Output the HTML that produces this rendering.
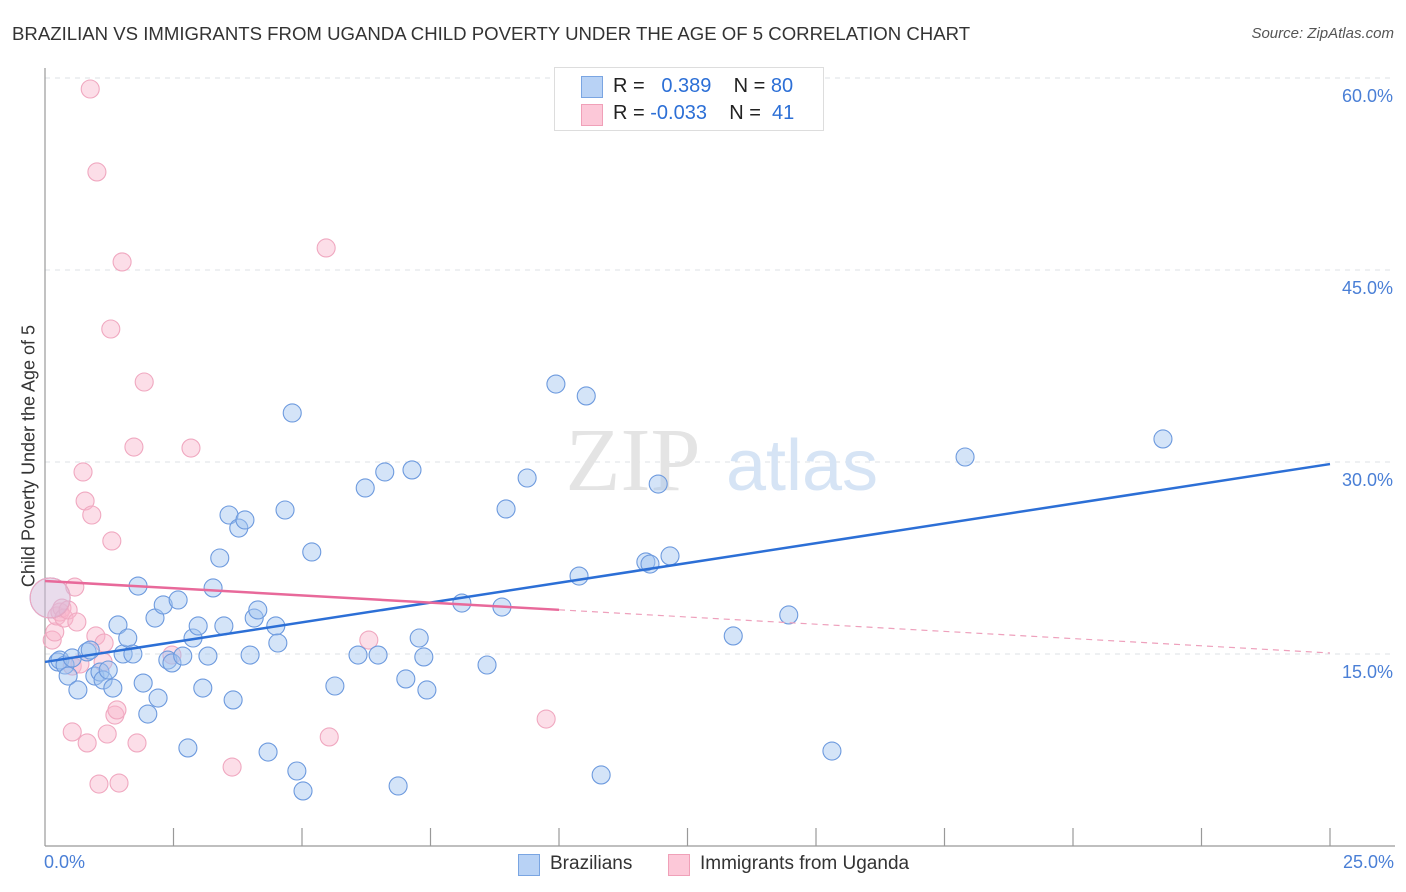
<!DOCTYPE html>
<html><head><meta charset="utf-8">
<style>
body{margin:0;background:#fff;font-family:"Liberation Sans",sans-serif;}
#wrap{position:relative;width:1406px;height:892px;overflow:hidden;}
.t{position:absolute;white-space:nowrap;}
</style></head>
<body>
<div id="wrap">
<div class="t" style="left:12px;top:23px;font-size:18.6px;color:#333;">BRAZILIAN VS IMMIGRANTS FROM UGANDA CHILD POVERTY UNDER THE AGE OF 5 CORRELATION CHART</div>
<div class="t" style="right:12px;top:25px;font-size:15px;color:#555;font-style:italic;">Source: ZipAtlas.com</div>
<svg id="svg" width="1406" height="892" style="position:absolute;left:0;top:0"></svg>
</div>
<script>
const blueX=[0.25,0.29,0.39,0.45,0.53,0.64,0.82,0.88,0.97,1.07,1.13,1.23,1.32,1.42,1.52,1.61,1.71,1.81,1.91,2.00,2.14,2.20,2.30,2.39,2.47,2.59,2.68,2.78,2.88,2.98,3.07,3.17,3.27,3.40,3.48,3.58,3.66,3.77,3.89,3.99,4.07,4.14,4.34,4.49,4.53,4.67,4.81,4.90,5.02,5.19,5.64,6.09,6.23,6.48,6.61,6.87,7.02,7.14,7.28,7.37,7.43,8.11,8.60,8.89,8.97,9.38,9.94,10.39,10.53,10.82,11.69,11.77,11.93,12.16,13.39,14.47,15.31,17.90,21.75];
const blueY=[14.38,14.53,14.14,13.28,14.69,12.19,15.16,15.31,13.28,13.59,12.97,13.75,12.34,17.27,15.0,16.25,15.0,20.31,12.73,10.31,17.81,11.56,18.83,14.53,14.30,19.22,14.84,7.66,16.25,17.19,12.34,14.84,20.16,22.5,17.19,25.86,11.41,24.84,25.47,14.92,17.81,18.44,7.34,17.19,15.86,26.25,33.83,5.86,4.30,22.97,12.5,14.92,27.97,14.92,29.22,4.69,13.05,29.38,16.25,14.77,12.19,18.98,14.14,18.67,26.33,28.75,36.09,21.09,35.16,5.55,22.19,22.03,28.28,22.66,16.41,18.05,7.42,30.39,31.80];
const pinkX=[0.14,0.19,0.23,0.29,0.33,0.37,0.45,0.53,0.53,0.58,0.62,0.68,0.74,0.78,0.82,0.91,0.99,1.01,1.05,1.13,1.15,1.21,1.30,1.28,1.36,1.40,1.44,1.50,1.73,1.79,1.93,2.47,2.84,3.64,5.47,5.53,6.30,9.75,0.88];
const pinkY=[16.09,16.72,17.97,18.28,18.59,17.81,18.44,14.06,8.91,20.23,17.50,14.22,29.22,26.95,8.05,25.86,16.41,52.66,4.84,14.38,15.86,8.75,23.83,40.39,10.23,10.63,4.92,45.63,31.17,8.05,36.25,14.92,31.09,6.17,46.72,8.52,16.09,9.92,59.14];
const bigX=[0.10], bigY=[19.38];
const yTicks=[15,30,45,60];
const yTickLabels=["15.0%","30.0%","45.0%","60.0%"];
const blueTrend=[14.38,29.84];
const pinkTrend=[20.7,15.08];
const pinkSolidEnd=10;

const X0=45,X1=1330,YB=846;
const sx=v=>X0+v*(X1-X0)/25;
const sy=v=>YB-v*12.8;
const svg=document.getElementById('svg');
const NS='http://www.w3.org/2000/svg';
function mk(tag,attrs,parent){const e=document.createElementNS(NS,tag);for(const k in attrs)e.setAttribute(k,attrs[k]);(parent||svg).appendChild(e);return e;}

yTicks.forEach((v,i)=>{
  const g=mk('line',{x1:X0,x2:1395,y1:sy(v),y2:sy(v),stroke:'#dde1e6','stroke-dasharray':'5,5','stroke-width':1});
  
  
  const t=mk('text',{x:1393,y:sy(v)+24,'text-anchor':'end','font-size':18,fill:'#4a7fd6','font-family':'Liberation Sans'});
  t.textContent=yTickLabels[i];
  
  
});
let a=mk('line',{x1:X0,x2:X0,y1:68,y2:YB,stroke:'#999','stroke-width':1.2});


a=mk('line',{x1:X0,x2:1395,y1:YB,y2:YB,stroke:'#999','stroke-width':1.2});


for(let i=1;i<=10;i++){
  const tk=mk('line',{x1:sx(i*2.5),x2:sx(i*2.5),y1:828,y2:YB,stroke:'#999','stroke-width':1.2});
  
  
}
let w=mk('text',{x:633,y:490,'text-anchor':'middle','font-size':90,fill:'#e4e4e4','font-family':'Liberation Serif'});
w.textContent='ZIP';


w=mk('text',{x:802,y:490,'text-anchor':'middle','font-size':72,fill:'#d6e4f5','font-family':'Liberation Sans'});
w.textContent='atlas';



function dot(x,y,r,kind,op){
  const c=mk('circle',{cx:sx(x),cy:sy(y),r:r,
    fill:kind==='b'?'rgba(160,196,240,'+(op||0.45)+')':'rgba(248,182,204,'+(op||0.45)+')',
    stroke:kind==='b'?'#6d9ade':'#f0a8c0','stroke-width':1.1});
  
  
}
pinkX.forEach((x,i)=>dot(x,pinkY[i],9,'p'));
blueX.forEach((x,i)=>dot(x,blueY[i],9,'b'));
dot(bigX[0],bigY[0],20,'b',0.3);
dot(bigX[0],bigY[0],20,'p',0.3);

let l=mk('line',{x1:sx(0),y1:sy(blueTrend[0]),x2:sx(25),y2:sy(blueTrend[1]),stroke:'#2c6fd6','stroke-width':2.5});


const pY=x=>pinkTrend[0]+(pinkTrend[1]-pinkTrend[0])*x/25;
l=mk('line',{x1:sx(0),y1:sy(pY(0)),x2:sx(pinkSolidEnd),y2:sy(pY(pinkSolidEnd)),stroke:'#e8699a','stroke-width':2.5});


l=mk('line',{x1:sx(pinkSolidEnd),y1:sy(pY(pinkSolidEnd)),x2:sx(25),y2:sy(pY(25)),stroke:'#eea0bc','stroke-width':1.2,'stroke-dasharray':'6,5'});


</script>
<div class="t" style="left:44px;top:852px;font-size:18px;color:#4a7fd6;">0.0%</div>
<div class="t" style="right:12px;top:852px;font-size:18px;color:#4a7fd6;">25.0%</div>
<div class="t" style="left:17px;top:456px;font-size:18px;color:#333;transform:translate(-50%,-50%) rotate(-90deg);transform-origin:center;margin-left:12px;">Child Poverty Under the Age of 5</div>
<div style="position:absolute;left:554px;top:67px;width:268px;height:62px;border:1px solid #ddd;background:#fff;">
 <div style="position:absolute;left:26px;top:8px;width:20px;height:20px;background:#b8d2f5;border:1px solid #7aa5e2;"></div>
 <div style="position:absolute;left:26px;top:36px;width:20px;height:20px;background:#fcc8d8;border:1px solid #f0a0b8;"></div>
 <div class="t" style="left:58px;top:7px;font-size:20px;color:#222;">R = &nbsp;<span style="color:#2c6fd6">&nbsp;0.389</span>&nbsp;&nbsp;&nbsp; N = <span style="color:#2c6fd6">80</span></div>
 <div class="t" style="left:58px;top:34px;font-size:20px;color:#222;">R = <span style="color:#2c6fd6">-0.033</span>&nbsp;&nbsp;&nbsp; N = &nbsp;<span style="color:#2c6fd6">41</span></div>
</div>
<div style="position:absolute;left:518px;top:854px;width:20px;height:20px;background:#b8d2f5;border:1px solid #7aa5e2;"></div>
<div class="t" style="left:550px;top:853px;font-size:19px;color:#333;">Brazilians</div>
<div style="position:absolute;left:668px;top:854px;width:20px;height:20px;background:#fcc8d8;border:1px solid #f0a0b8;"></div>
<div class="t" style="left:700px;top:853px;font-size:19px;color:#333;">Immigrants from Uganda</div>
</body></html>
